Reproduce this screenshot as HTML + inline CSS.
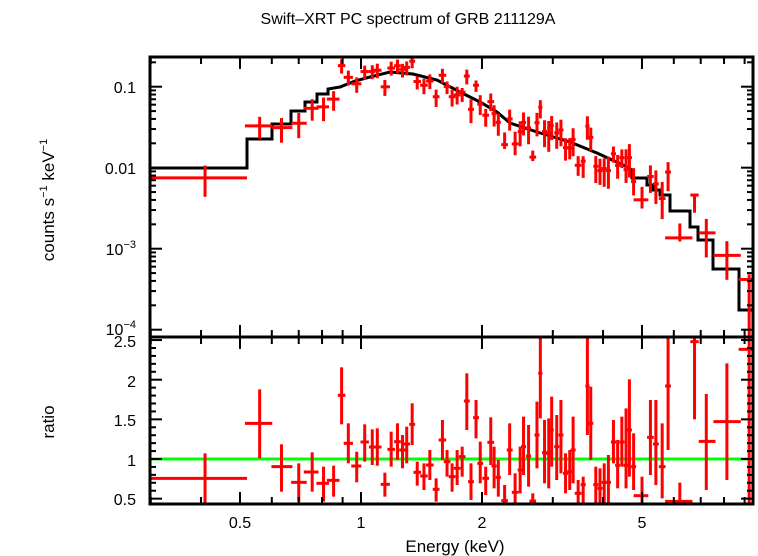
<!DOCTYPE html>
<html><head><meta charset="utf-8"><style>
html,body{margin:0;padding:0;background:#fff;width:758px;height:556px;overflow:hidden}
svg{display:block;font-family:"Liberation Sans",sans-serif}
</style></head><body>
<svg id="s" width="758" height="556" xmlns="http://www.w3.org/2000/svg">
<text x="408" y="24" font-size="16" text-anchor="middle">Swift–XRT PC spectrum of GRB 211129A</text>
<text x="455" y="552" font-size="17" text-anchor="middle">Energy (keV)</text>
<text transform="translate(54,200) rotate(-90)" font-size="17" text-anchor="middle">counts s<tspan font-size="11" dy="-7">−1</tspan><tspan dy="7"> keV</tspan><tspan font-size="11" dy="-7">−1</tspan></text>
<text transform="translate(54,422) rotate(-90)" font-size="17" text-anchor="middle">ratio</text>
<g font-size="16" text-anchor="end">
<text x="136" y="93">0.1</text>
<text x="136" y="174">0.01</text>
<text x="136" y="255">10<tspan font-size="11" dy="-7">−3</tspan></text>
<text x="136" y="335">10<tspan font-size="11" dy="-7">−4</tspan></text>
<text x="136" y="347">2.5</text>
<text x="136" y="387">2</text>
<text x="136" y="426">1.5</text>
<text x="136" y="466">1</text>
<text x="136" y="505">0.5</text>
</g>
<g font-size="16" text-anchor="middle">
<text x="240" y="528">0.5</text>
<text x="361" y="528">1</text>
<text x="482" y="528">2</text>
<text x="642" y="528">5</text>
</g>
<g id="plot"></g>
</svg>
<script>
var g=document.getElementById('plot'),NS='http://www.w3.org/2000/svg';
function el(t,a){var e=document.createElementNS(NS,t);for(var k in a)e.setAttribute(k,a[k]);g.appendChild(e);return e;}
function ln(x1,y1,x2,y2,c,w){el('line',{x1:x1,y1:y1,x2:x2,y2:y2,stroke:c,'stroke-width':w});}
var L=150,R=753,T=57,M=337,B=504;
function X(E){return 361+402*Math.log10(E);}
// model polyline
var mp=[[150,168],[247,168],[247,139],[272,139],[272,124],[291,124],[291,111],[305,111],[305,102],[317,102],[317,94],[328,94],[328,89],[340,87],[355,81],[370,77],[390,72],[413,74],[437,80],[460,92],[480,102],[497,112],[510,123],[537,132],[570,142],[597,153],[623,165],[632,170],[632,178],[647,178],[647,185],[653,185],[653,190],[660,190],[660,195],[670,195],[670,211],[690,211],[690,227],[698,227],[698,240],[713,240],[713,269],[739,269],[739,310],[753,310]];
el('polyline',{points:mp.map(function(p){return p.join(',')}).join(' '),fill:'none',stroke:'#000','stroke-width':3});
function my(x){for(var i=mp.length-1;i>0;i--){var a=mp[i-1],b=mp[i];if(x>=a[0]&&x<=b[0]&&b[0]>a[0]){return a[1]+(b[1]-a[1])*(x-a[0])/(b[0]-a[0]);}}return 310;}
// ratio points in zoom coords: x, y, ytop, ybot, xlo, xhi
var P=[[250,475,400,550,120,350],[380,310,208,415,345,410],[432,440,373,515,408,458],[473,487,430,545,455,492],[505,456,397,515,485,520],[532,490,440,545,515,545],[556,481,437,530,540,570],[575,226,142,313,566,584],[591,370,310,430,580,602],[611,438,395,487,598,622],[630,366,313,425,620,640],[648,381,328,435,640,655],[660,381,325,437,650,670],[678,493,458,530,668,690],[693,388,335,440,684,702],[708,365,310,420,700,716],[720,390,345,445,712,728],[730,372,320,430,722,738],[743,313,250,375,736,750],[755,457,425,497,746,764],[771,468,430,510,762,780],[785,435,390,480,776,794],[800,508,475,545,792,808],[815,360,300,420,806,824],[826,425,390,470,818,834],[838,470,430,515,830,846],[850,445,390,495,842,858],[862,410,380,470,854,870],[873,243,160,330,866,880],[883,485,430,540,876,890],[895,293,240,355,888,902],[905,430,365,490,898,912],[918,475,440,525,910,926],[930,367,292,435,922,938],[938,438,380,505,932,944],[948,472,420,530,942,954],[963,542,495,555,955,971],[975,390,310,465,968,982],[988,517,460,555,980,996],[1000,450,380,520,994,1006],[1008,380,290,465,1002,1014],[1020,408,315,500,1014,1026],[1030,543,520,555,1022,1038],[1040,345,245,445,1034,1046],[1048,160,50,295,1043,1053],[1058,398,300,490,1052,1064],[1068,400,295,505,1062,1074],[1075,330,230,440,1070,1080],[1087,380,285,480,1081,1093],[1097,345,240,460,1091,1103],[1108,460,400,520,1102,1114],[1118,455,390,510,1112,1124],[1126,390,290,490,1120,1132],[1138,520,480,555,1130,1146],[1150,494,470,555,1144,1156],[1160,198,50,345,1155,1165],[1168,310,200,420,1162,1174],[1180,494,440,555,1174,1186],[1190,505,445,555,1184,1196],[1200,487,430,555,1194,1206],[1210,487,405,555,1204,1216],[1222,366,300,430,1216,1228],[1232,436,360,505,1226,1238],[1242,366,290,440,1236,1248],[1252,436,265,505,1246,1258],[1260,330,178,470,1254,1266],[1270,440,340,510,1264,1276],[1290,527,470,555,1270,1305],[1310,352,240,465,1302,1318],[1323,372,240,495,1316,1330],[1338,440,310,535,1330,1346],[1352,198,50,390,1345,1359],[1380,544,488,555,1345,1410],[1415,65,50,298,1405,1425],[1443,364,222,510,1425,1465],[1492,305,130,480,1460,1525],[1545,88,0,555,1520,1566]];
var red='#f00';
function ry(z){return z/3+320;}
function rat(y){return 1+(459-y)/79.3;}
ln(L,459,R,459,'#0f0',3);
P.forEach(function(p){
 var xc=p[0]/2.38+100,x1=Math.max(L,p[4]/2.38+100),x2=Math.min(R,p[5]/2.38+100);
 var yc=ry(p[1]),yt=Math.max(M,ry(p[2])),yb=Math.min(B,ry(p[3]));
 ln(x1,yc,x2,yc,red,3);ln(xc,yt,xc,yb,red,3);
 // top panel
 var m=my(xc),f=function(r){return m-81*Math.log10(Math.max(r,0.05));};
 var ty=f(rat(ry(p[1]))),tt=Math.max(T,f(rat(ry(p[2])))),tb=Math.min(M,f(rat(ry(p[3]))));
 if(ty<M){ln(x1,ty,x2,ty,red,3);}
 ln(xc,tt,xc,tb,red,3);
});
// frame
el('rect',{x:L,y:T,width:R-L,height:B-T,fill:'none',stroke:'#000','stroke-width':3});
ln(L,M,R,M,'#000',3);
// x ticks
var xs=[0.3,0.4,0.5,0.6,0.7,0.8,0.9,1,2,3,4,5,6,7,8,9];
xs.forEach(function(E){var x=X(E),mj=(E==0.5||E==1||E==2||E==5),l=mj?12:7;
 [T,M,B].forEach(function(y){ if(y!=B) ln(x,y,x,y+l,'#000',2); if(y!=T) ln(x,y,x,y-l,'#000',2);});});
// y ticks top
for(var d=-4;d<0;d++){for(var k=1;k<10;k++){var v=k*Math.pow(10,d),y=86.7-81*Math.log10(v/0.1);if(y<T||y>M)continue;var l=k==1?12:6;ln(L,y,L+l,y,'#000',2);ln(R,y,R-l,y,'#000',2);}}
// y ticks bottom
for(var r=0.5;r<=2.51;r+=0.1){var y=459-(r-1)*79.3,mj=Math.abs(r*2-Math.round(r*2))<0.01,l=mj?12:6;ln(L,y,L+l,y,'#000',2);ln(R,y,R-l,y,'#000',2);}
</script>
</body></html>
